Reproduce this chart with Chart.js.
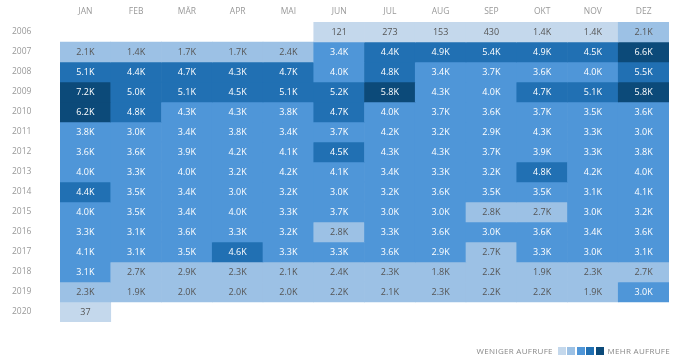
<!DOCTYPE html>
<html>
<head>
<meta charset="utf-8">
<script src="https://cdn.jsdelivr.net/npm/chart.js@4/dist/chart.umd.min.js"></script>
<style>
  body { margin: 0; background: #fff; font-family: "Open Sans", sans-serif; }
  #wrap { position: relative; width: 676px; height: 360px; }
  #legend { position: absolute; left: 0; right: 6px; top: 345px; text-align: right; font-size: 8px; color: #888; letter-spacing: 0.3px; }
  #legend span.sq { display: inline-block; width: 8px; height: 8px; margin-right: 1.5px; vertical-align: -1px; }
</style>
</head>
<body>
<div id="wrap">
  <canvas id="myChart" width="676" height="360"></canvas>
  <div id="legend"></div>
</div>
<script>
var months = ["JAN", "FEB", "MÄR", "APR", "MAI", "JUN", "JUL", "AUG", "SEP", "OKT", "NOV", "DEZ"];
var years = [2006, 2007, 2008, 2009, 2010, 2011, 2012, 2013, 2014, 2015, 2016, 2017, 2018, 2019, 2020];

// page views per month, one row per year (null = no data)
var v2006 = [null, null, null, null, null, 121, 273, 153, 430, 1380, 1390, 2100];
var v2007 = [2100, 1442, 1700, 1700, 2400, 3400, 4400, 4900, 5400, 4900, 4500, 6600];
var v2008 = [5100, 4400, 4700, 4340, 4700, 4000, 4800, 3400, 3700, 3600, 4000, 5500];
var v2009 = [7200, 5000, 5100, 4500, 5100, 5200, 5800, 4280, 4000, 4700, 5100, 5800];
var v2010 = [6200, 4800, 4260, 4280, 3800, 4700, 4000, 3700, 3600, 3700, 3500, 3600];
var v2011 = [3800, 3000, 3400, 3800, 3400, 3700, 4200, 3200, 2930, 4280, 3300, 3000];
var v2012 = [3600, 3600, 3900, 4200, 4100, 4500, 4270, 4290, 3700, 3900, 3300, 3800];
var v2013 = [4000, 3300, 4000, 3200, 4200, 4100, 3400, 3300, 3200, 4800, 4200, 4000];
var v2014 = [4400, 3500, 3400, 3000, 3200, 3000, 3200, 3600, 3500, 3500, 3100, 4100];
var v2015 = [4000, 3500, 3400, 4000, 3300, 3700, 3000, 3000, 2800, 2700, 3000, 3200];
var v2016 = [3300, 3100, 3600, 3300, 3200, 2800, 3300, 3600, 3000, 3600, 3400, 3600];
var v2017 = [4100, 3100, 3500, 4600, 3300, 3300, 3600, 2920, 2700, 3300, 3000, 3100];
var v2018 = [3100, 2700, 2870, 2300, 2100, 2400, 2300, 1800, 2200, 1900, 2300, 2700];
var v2019 = [2300, 1900, 2000, 2000, 2000, 2200, 2100, 2300, 2200, 2200, 1900, 3000];
var v2020 = [37, null, null, null, null, null, null, null, null, null, null, null];

var rows = [v2006, v2007, v2008, v2009, v2010, v2011, v2012, v2013, v2014, v2015, v2016, v2017, v2018, v2019, v2020];
var colors = ["#c4d8ec", "#9cc1e5", "#4f96d8", "#2170b3", "#0c4a79"];

var maxVal = Math.max.apply(null, rows.flat().filter(v => v != null));

function level(v) {
  return Math.min(colors.length - 1, Math.floor(v / maxVal * colors.length));
}
function fmt(v) {
  return v < 1000 ? String(v) : (v / 1000).toFixed(1) + "K";
}

var datasets = years.map(function (yr, i) {
  return {
    label: String(yr),
    vals: rows[i],
    data: rows[i].map(v => v == null ? null : [yr - 0.5, yr + 0.5]),
    backgroundColor: rows[i].map(v => v == null ? "transparent" : colors[level(v)]),
    borderWidth: 0,
    grouped: false,
    barPercentage: 1,
    categoryPercentage: 1
  };
});

var cellLabels = {
  id: "cellLabels",
  afterDatasetsDraw(chart) {
    var ctx = chart.ctx;
    ctx.save();
    ctx.font = "9px 'Open Sans'";
    ctx.textAlign = "center";
    ctx.textBaseline = "middle";
    chart.data.datasets.forEach(function (ds, i) {
      chart.getDatasetMeta(i).data.forEach(function (bar, j) {
        var v = ds.vals[j];
        if (v == null) return;
        var p = bar.getCenterPoint();
        ctx.fillStyle = level(v) < 2 ? "#555" : "#fff";
        ctx.fillText(fmt(v), p.x, p.y + 0.5);
      });
    });
    ctx.restore();
  }
};

new Chart("myChart", {
  type: "bar",
  data: { labels: months, datasets: datasets },
  plugins: [cellLabels],
  options: {
    responsive: false,
    animation: false,
    layout: { padding: { left: 12, right: 7, top: 0, bottom: 38 } },
    plugins: { legend: { display: false }, tooltip: { enabled: false } },
    scales: {
      x: {
        position: "top",
        grid: { display: false, drawTicks: false },
        border: { display: false },
        ticks: { color: "#999", font: { size: 8.5, family: "Open Sans" }, padding: 5 },
        afterFit: function (s) { s.height = 22; }
      },
      y: {
        reverse: true,
        min: 2005.5,
        max: 2020.5,
        grid: { display: false, drawTicks: false },
        border: { display: false },
        afterBuildTicks: function (s) { s.ticks = years.map(y => ({ value: y })); },
        ticks: { color: "#999", font: { size: 8.5, family: "Open Sans" }, crossAlign: "far", callback: v => String(v) },
        afterFit: function (s) { s.width = 48; }
      }
    }
  }
});

var lg = document.getElementById("legend");
var html = "WENIGER AUFRUFE&nbsp; ";
colors.forEach(c => { html += '<span class="sq" style="background:' + c + '"></span>'; });
html += "&nbsp;MEHR AUFRUFE";
lg.innerHTML = html;
</script>
</body>
</html>
